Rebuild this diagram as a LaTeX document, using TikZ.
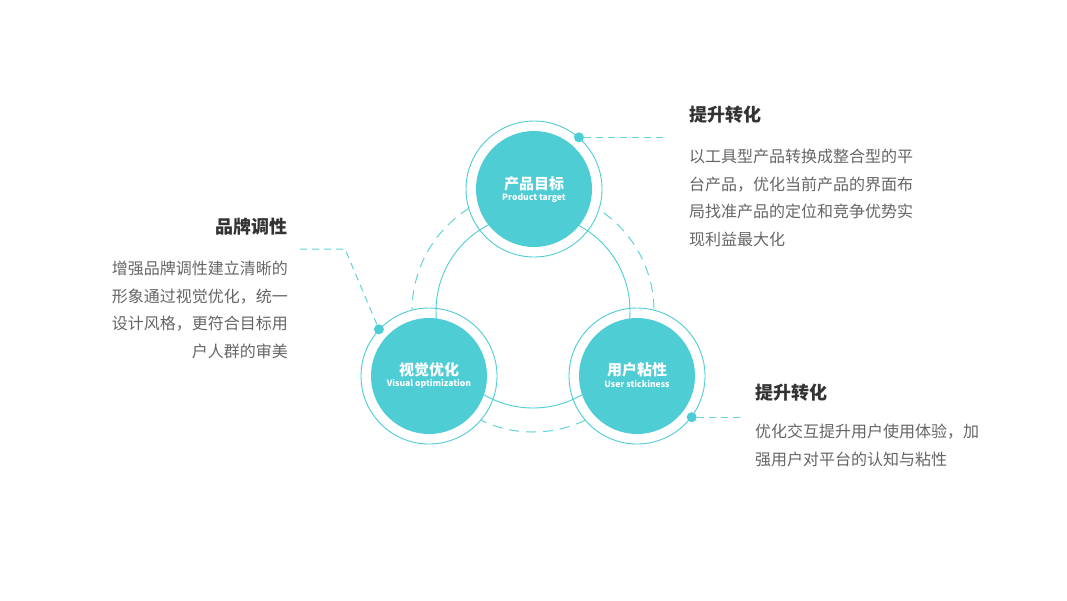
\documentclass[tikz,border=0pt]{standalone}
\usepackage{fontspec}
\setmainfont{Noto Sans CJK SC}
\usetikzlibrary{calc}
\definecolor{tealA}{HTML}{4ECDD4}
\definecolor{tealB}{HTML}{62D3D9}
\definecolor{txtgray}{HTML}{666666}
\definecolor{txtdark}{HTML}{333333}
\begin{document}
\begin{tikzpicture}[x=1pt,y=-1pt,
  core/.style={circle,fill=tealA,minimum size=116pt,inner sep=0pt},
  ring/.style={circle,draw=tealA,fill=white,line width=0.9pt,minimum size=136pt,inner sep=0pt},
  dotmark/.style={circle,fill=tealA,minimum size=10pt,inner sep=0pt},
  leader/.style={draw=tealB,line width=1pt,dash pattern=on 7pt off 5pt},
  dashring/.style={draw=tealB,line width=1pt,dash pattern=on 10pt off 7pt},
  solidring/.style={draw=tealA,line width=0.9pt},
  ctitle/.style={text=white,inner sep=0pt,font=\fontsize{15}{15}\selectfont\bfseries},
  csub/.style={text=white,inner sep=0pt,font=\fontsize{8.6}{8.6}\selectfont\bfseries},
  heading/.style={text=txtdark,inner sep=0pt,font=\fontsize{18}{18}\selectfont\bfseries},
  bodytext/.style={text=txtgray,inner sep=0pt,font=\fontsize{16}{27.4}\selectfont}
]
\useasboundingbox[fill=white] (0,0) rectangle (1067,600);

% dashed outer circle
\draw[dashring] (533,311) circle[radius=121];

% rings
\node[ring] (rT) at (534,189) {};
\node[ring] (rL) at (429,376) {};
\node[ring] (rR) at (637,376) {};

% solid inner circle
\draw[solidring] (533,311) circle[radius=97];

% cores
\node[core] (cT) at (rT) {};
\node[core] (cL) at (rL) {};
\node[core] (cR) at (rR) {};

\node[ctitle] (cTt) at ($(cT)+(0,-5)$) {产品目标};
\node[csub]   (cTs) at ($(cT)+(0,9)$) {Product target};
\node[ctitle] (cLt) at ($(cL)+(0,-6)$) {视觉优化};
\node[csub]   (cLs) at ($(cL)+(0,8)$) {Visual optimization};
\node[ctitle] (cRt) at ($(cR)+(0,-6)$) {用户粘性};
\node[csub]   (cRs) at ($(cR)+(0,8)$) {User stickiness};

% dots
\node[dotmark] (dT) at (rT.49) {};
\node[dotmark] (dL) at (rL.137) {};
\node[dotmark] (dR) at (rR.-37) {};

% leaders
\coordinate (lT) at (668,138);
\coordinate (kL) at (345,249);
\coordinate (lL) at (300,249);
\coordinate (lR) at (740,416);
\draw[leader] (dT) -- (dT -| lT);
\draw[leader] (dL) -- (kL) -- (lL);
\draw[leader] (dR) -- (dR -| lR);

% texts
\node[heading,anchor=base west] (h1) at (689,121) {提升转化};
\node[bodytext,anchor=base west,align=left] (b1) at (689,245)
  {以工具型产品转换成整合型的平\\台产品，优化当前产品的界面布\\局找准产品的定位和竞争优势实\\现利益最大化};

\node[heading,anchor=base east] (h2) at (288,233) {品牌调性};
\node[bodytext,anchor=base east,align=right] (b2) at (288,357)
  {增强品牌调性建立清晰的\\形象通过视觉优化，统一\\设计风格，更符合目标用\\户人群的审美};

\node[heading,anchor=base west] (h3) at (755,399) {提升转化};
\node[bodytext,anchor=base west,align=left] (b3) at (755,465)
  {优化交互提升用户使用体验，加\\强用户对平台的认知与粘性};
\end{tikzpicture}
\end{document}
